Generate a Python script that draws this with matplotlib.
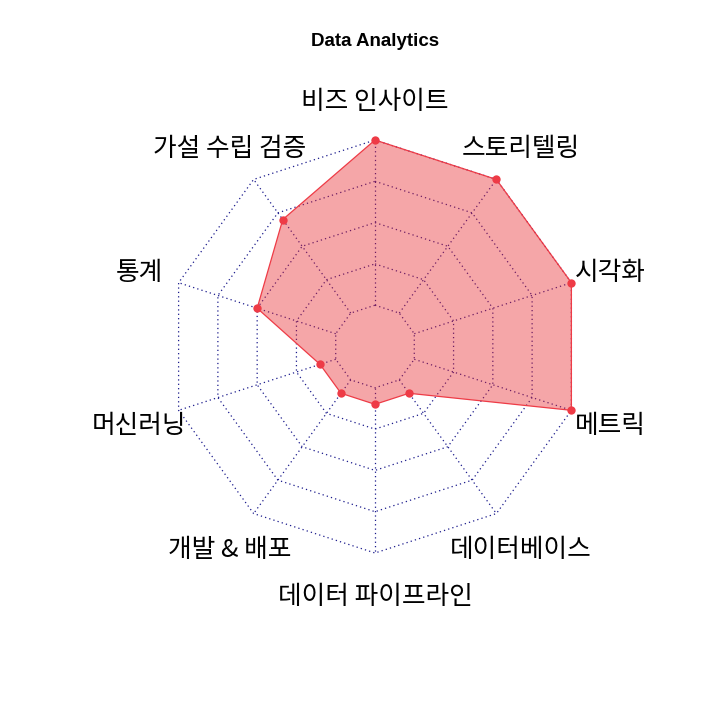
import numpy as np
import matplotlib
matplotlib.use("Agg")
import matplotlib.pyplot as plt

plt.rcParams['font.family'] = ['Noto Sans CJK KR', 'DejaVu Sans']

title = "Data Analytics"
categories = ["비즈 인사이트", "스토리텔링", "시각화", "메트릭", "데이터베이스",
              "데이터 파이프라인", "개발 & 배포", "머신러닝", "통계", "가설 수립 검증"]
values = [10, 10, 10, 10, 1, 1, 1, 1, 5, 7]
vmin, vmax = 0, 10
seg = 4

W, H = 712, 714
cx, cy, R = 375.0, 346.5, 206.5

fig = plt.figure(figsize=(W / 100, H / 100), dpi=100)
ax = fig.add_axes([0, 0, 1, 1])
ax.set_xlim(-cx / R, (W - cx) / R)
ax.set_ylim(-(H - cy) / R, cy / R)
ax.set_aspect('equal')
ax.axis('off')

n = len(categories)
ang = np.pi / 2 - 2 * np.pi * np.arange(n) / n
xx, yy = np.cos(ang), np.sin(ang)

gridcol = '#1a1a8c'
dot = (0, (1, 2.5))
for i in range(seg + 1):
    f = (i + 1) / (seg + 1)
    ax.plot(np.append(xx, xx[0]) * f, np.append(yy, yy[0]) * f,
            color=gridcol, lw=0.9, linestyle=dot, zorder=1)
for k in range(n):
    ax.plot([xx[k] / (seg + 1), xx[k]], [yy[k] / (seg + 1), yy[k]],
            color=gridcol, lw=0.9, linestyle=dot, zorder=1)

v = np.array(values, dtype=float)
r = 1 / (seg + 1) + (v - vmin) / (vmax - vmin) * seg / (seg + 1)
px, py = r * xx, r * yy
ax.fill(px, py, facecolor=(0.91, 0.13, 0.15, 0.4), edgecolor='none', zorder=2)
ax.plot(np.append(px, px[0]), np.append(py, py[0]), color='#ee3b46', lw=0.9, zorder=3)
ax.plot(px, py, 'o', color='#ee3b46', markersize=6, markeredgewidth=0, zorder=4)

for k in range(n):
    ax.text(xx[k] * 1.2, yy[k] * 1.2 - 0.014, categories[k], ha='center', va='center',
            fontsize=18.5, color='black')

fig.text(375 / W, 1 - 46.5 / H, title, ha='center', va='baseline', fontsize=13.5,
         fontweight='bold', family=['Liberation Sans', 'DejaVu Sans'])

fig.savefig('out.png', dpi=100)
